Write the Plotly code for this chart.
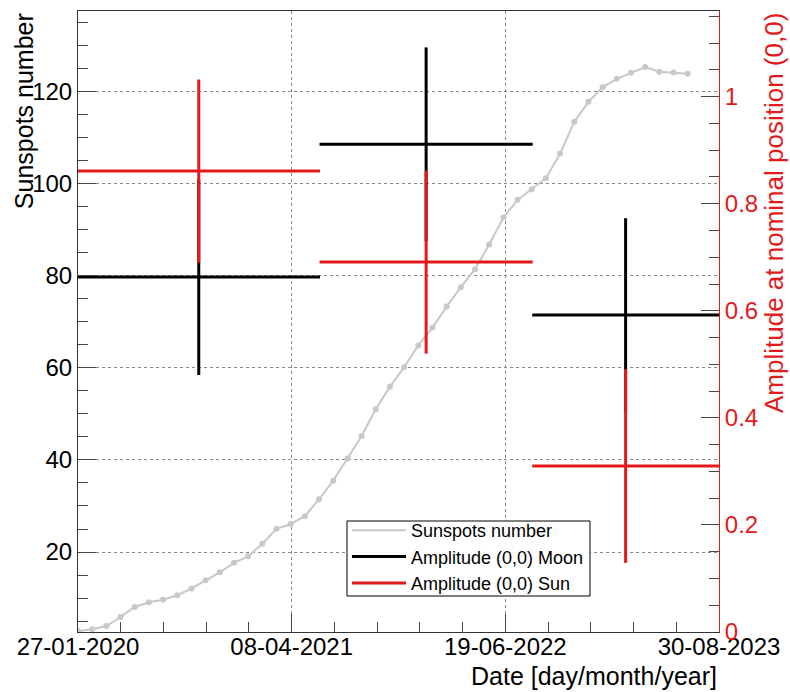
import plotly.graph_objects as go
import pandas as pd

# ---------------- data ----------------
sun_dates = [
    "2020-01-27", "2020-02-25", "2020-03-25", "2020-04-23", "2020-05-22", "2020-06-20",
    "2020-07-19", "2020-08-17", "2020-09-15", "2020-10-14", "2020-11-12", "2020-12-11",
    "2021-01-09", "2021-02-07", "2021-03-08", "2021-04-06", "2021-05-05", "2021-06-03",
    "2021-07-02", "2021-07-31", "2021-08-29", "2021-09-27", "2021-10-26", "2021-11-24",
    "2021-12-23", "2022-01-21", "2022-02-19", "2022-03-20", "2022-04-18", "2022-05-17",
    "2022-06-15", "2022-07-14", "2022-08-12", "2022-09-10", "2022-10-09", "2022-11-07",
    "2022-12-06", "2023-01-04", "2023-02-02", "2023-03-03", "2023-04-01", "2023-04-30",
    "2023-05-29", "2023-06-27",
]
sunspots = [
    2.85, 3.24, 3.93, 5.89, 8.06, 9.1,
    9.65, 10.6, 12.08, 13.88, 15.6, 17.66,
    19.07, 21.79, 25.05, 26.09, 27.79, 31.46,
    35.5, 40.32, 45.21, 51.01, 55.92, 60.13,
    64.87, 68.74, 73.3, 77.51, 81.42, 86.77,
    92.63, 96.48, 98.8, 101.19, 106.53, 113.42,
    117.77, 120.96, 122.77, 124.07, 125.33, 124.33,
    124.14, 123.85,
]

bin_centers = ["2020-09-30", "2022-01-08", "2023-02-20"]
bin_half_days = [248, 218, 191]
moon_amp = [0.663, 0.911, 0.592]
moon_err = [0.183, 0.181, 0.181]
sun_amp = [0.861, 0.691, 0.310]
sun_err = [0.171, 0.171, 0.181]

x_start, x_end = "2020-01-27", "2023-08-30"
x_tick_dates = ["2020-01-27", "2021-04-08", "2022-06-19", "2023-08-30"]
x_tick_labels = ["27-01-2020", "08-04-2021", "19-06-2022", "30-08-2023"]

RED = "#e31a1c"
TICK = "#444"
FONT = "Liberation Sans, Arial, Helvetica, sans-serif"

# plot-area geometry in pixels (style only)
W, H = 790, 692
L, R, T, B = 78, 71, 11, 60
PW, PH = W - L - R, H - T - B


def px_x(px):
    return (px - L) / PW


def px_y(py):
    return (H - B - py) / PH


def crosses(centers, half_days, vals, errs):
    xs, ys = [], []
    for c, h, v, e in zip(centers, half_days, vals, errs):
        c = pd.Timestamp(c)
        d = pd.Timedelta(days=h)
        xs += [(c - d).isoformat(), (c + d).isoformat(), None, c.isoformat(), c.isoformat(), None]
        ys += [v, v, None, v - e, v + e, None]
    return xs, ys


fig = go.Figure()

fig.add_trace(go.Scatter(x=sun_dates, y=sunspots, mode="lines", name="Sunspots number",
                         line=dict(color="#c8c8c8", width=2), yaxis="y"))
fig.add_trace(go.Scatter(x=sun_dates, y=sunspots, mode="markers", showlegend=False,
                         marker=dict(color="#c8c8c8", size=6, symbol="circle"), yaxis="y"))

mx, my = crosses(bin_centers, bin_half_days, moon_amp, moon_err)
fig.add_trace(go.Scatter(x=mx, y=my, mode="lines", name="Amplitude (0,0) Moon",
                         line=dict(color="black", width=3), yaxis="y2"))
sx, sy = crosses(bin_centers, bin_half_days, sun_amp, sun_err)
fig.add_trace(go.Scatter(x=sx, y=sy, mode="lines", name="Amplitude (0,0) Sun",
                         line=dict(color=RED, width=3), yaxis="y2"))

day_ms = 86400000
major_step_days = (pd.Timestamp(x_tick_dates[1]) - pd.Timestamp(x_tick_dates[0])).days

fig.update_layout(
    width=W, height=H,
    margin=dict(l=L, r=R, t=T, b=B),
    paper_bgcolor="white", plot_bgcolor="white",
    font=dict(family=FONT, size=24, color="black"),
    showlegend=True,
    legend=dict(x=px_x(347), y=px_y(512), xanchor="left", yanchor="top",
                borderwidth=0, bgcolor="rgba(0,0,0,0)",
                font=dict(size=18, family=FONT), itemwidth=54, tracegroupgap=0),
    shapes=[
        dict(type="rect", xref="paper", yref="paper",
             x0=px_x(347), x1=px_x(590), y0=px_y(596), y1=px_y(521),
             line=dict(color="black", width=1), fillcolor="white", layer="above"),
    ],
    xaxis=dict(
        type="date", range=[x_start, x_end],
        tickmode="array", tickvals=x_tick_dates, ticktext=x_tick_labels,
        ticks="inside", ticklen=18, tickwidth=1, tickcolor=TICK,
        showline=True, linecolor="#333", linewidth=1, mirror=True,
        showgrid=True, gridcolor="#888", griddash="dot", gridwidth=1,
        zeroline=False, ticklabelstandoff=-7,
        tickfont=dict(size=24),
        minor=dict(tickmode="linear", tick0=x_start, dtick=major_step_days * day_ms / 5,
                   ticks="inside", ticklen=10, tickcolor=TICK, showgrid=False),
    ),
    yaxis=dict(
        range=[2.63, 137.5], tickmode="linear", tick0=0, dtick=20,
        ticks="inside", ticklen=18, tickcolor=TICK,
        showline=True, linecolor="#333", linewidth=1,
        showgrid=True, gridcolor="#888", griddash="dot", gridwidth=1,
        zeroline=False, tickfont=dict(size=24),
        minor=dict(tickmode="linear", tick0=0, dtick=5, ticks="inside", ticklen=10,
                   tickcolor=TICK, showgrid=False),
    ),
    yaxis2=dict(
        overlaying="y", side="right", range=[0, 1.16],
        tickmode="linear", tick0=0, dtick=0.2,
        ticks="inside", ticklen=18, tickcolor=TICK,
        showline=True, linecolor=RED, linewidth=1,
        showgrid=False, zeroline=False,
        tickfont=dict(size=24, color=RED),
        minor=dict(tickmode="linear", tick0=0, dtick=0.05, ticks="inside", ticklen=10,
                   tickcolor=TICK, showgrid=False),
    ),
    annotations=[
        dict(text="Sunspots number", xref="paper", yref="paper", x=-0.084, y=1.0,
             xanchor="center", yanchor="top", textangle=-90, showarrow=False,
             font=dict(size=25, family=FONT, color="black")),
        dict(text="Amplitude at nominal position (0,0)", xref="paper", yref="paper",
             x=px_x(774), y=1.0, xanchor="center", yanchor="top", textangle=-90,
             showarrow=False, font=dict(size=26, family=FONT, color=RED)),
        dict(text="Date [day/month/year]", xref="paper", yref="paper", x=1.0, y=px_y(676),
             xanchor="right", yanchor="middle", showarrow=False,
             font=dict(size=25, family=FONT, color="black")),
    ],
)

fig.write_html("out.html")
